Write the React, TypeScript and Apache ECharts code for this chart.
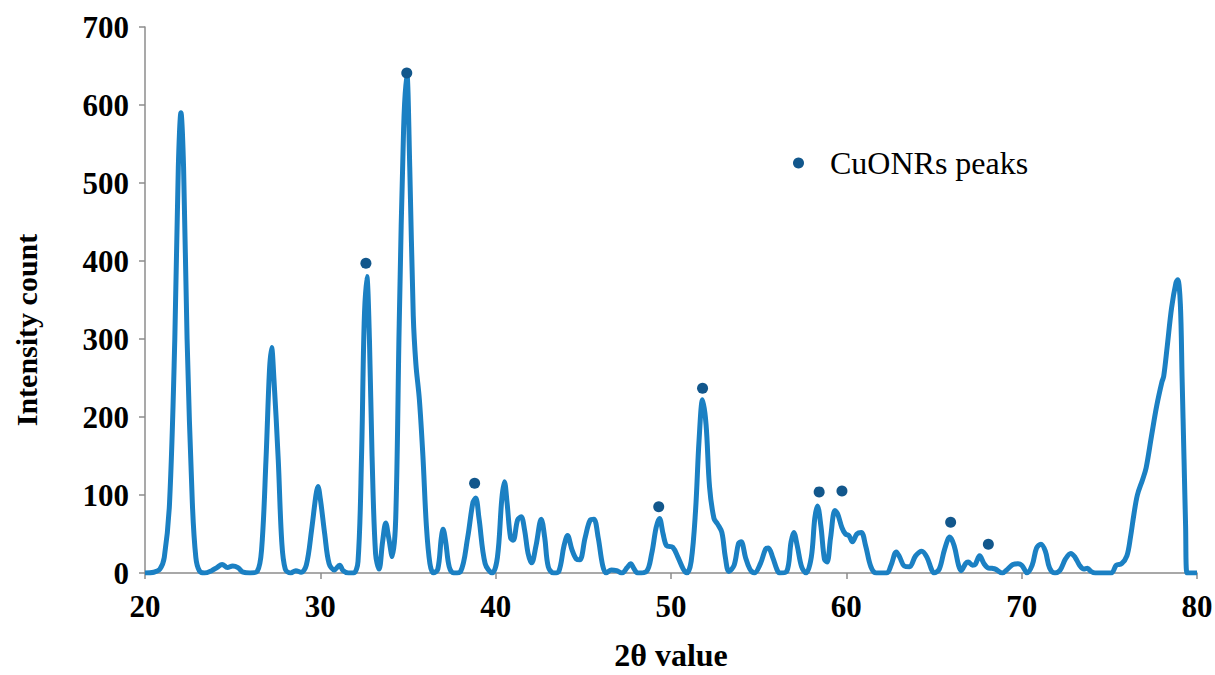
import React, { useEffect, useRef } from "react";
import * as echarts from "echarts";

const twoTheta: number[] = [
  20.0, 20.5, 20.85, 21.1, 21.4, 21.7, 21.9, 22.05, 22.2, 22.4, 22.7, 22.9, 23.1, 23.4, 23.8, 24.1, 24.4, 24.7, 25.0, 25.3,
  25.6, 26.0, 26.4, 26.65, 26.9, 27.1, 27.22, 27.35, 27.6, 27.8, 28.0, 28.3, 28.6, 28.9, 29.2, 29.5, 29.75, 29.86, 30.0, 30.25,
  30.5, 30.8, 31.1, 31.3, 31.6, 31.9, 32.15, 32.35, 32.5, 32.65, 32.8, 32.95, 33.15, 33.35, 33.55, 33.73, 33.9, 34.1, 34.3, 34.5,
  34.75, 34.93, 35.1, 35.3, 35.45, 35.65, 35.85, 36.05, 36.25, 36.45, 36.7, 36.9, 37.0, 37.15, 37.35, 37.6, 38.0, 38.4, 38.7, 38.86,
  39.05, 39.4, 39.8, 40.1, 40.35, 40.5, 40.65, 40.85, 41.0, 41.25, 41.45, 41.65, 41.85, 42.05, 42.3, 42.6, 42.8, 43.0, 43.3, 43.6,
  43.9, 44.1, 44.35, 44.6, 44.8, 45.1, 45.4, 45.6, 45.85, 46.1, 46.3, 46.6, 46.9, 47.2, 47.5, 47.7, 47.9, 48.1, 48.6, 48.9,
  49.15, 49.34, 49.55, 49.75, 50.1, 50.4, 50.7, 50.9, 51.15, 51.4, 51.6, 51.8, 52.0, 52.2, 52.45, 52.65, 52.9, 53.1, 53.3, 53.6,
  53.85, 54.0, 54.25, 54.5, 54.75, 55.1, 55.4, 55.55, 55.8, 56.05, 56.2, 56.6, 56.85, 57.0, 57.2, 57.45, 57.7, 58.0, 58.2, 58.35,
  58.55, 58.75, 58.9, 59.1, 59.35, 59.5, 59.75, 59.95, 60.15, 60.35, 60.6, 60.85, 61.1, 61.4, 61.7, 62.3, 62.55, 62.85, 63.05, 63.3,
  63.6, 63.95, 64.3, 64.6, 64.85, 65.0, 65.3, 65.6, 65.9, 66.15, 66.4, 66.55, 66.8, 66.95, 67.2, 67.35, 67.6, 67.85, 68.05, 68.3,
  68.5, 68.9, 69.2, 69.5, 69.8, 70.0, 70.2, 70.3, 70.6, 70.85, 71.1, 71.35, 71.6, 71.9, 72.2, 72.5, 72.8, 73.05, 73.3, 73.55,
  73.75, 73.95, 74.2, 75.1, 75.4, 75.7, 76.0, 76.2, 76.4, 76.6, 76.9, 77.1, 77.4, 77.7, 78.0, 78.1, 78.3, 78.55, 78.8, 78.9,
  79.05, 79.15, 79.26, 79.35, 79.43, 80.0,
];
const intensity: number[] = [
  0, 1, 5, 20, 90, 300, 520, 590, 520, 300, 90, 20, 3, 0, 3, 7, 11, 7, 9, 7,
  1, 0, 2, 30, 145, 260, 289, 250, 145, 40, 5, 0, 3, 1, 10, 55, 100, 111, 95, 50,
  12, 4, 10, 3, 0, 0, 15, 150, 320, 380, 300, 150, 25, 5, 40, 64, 45, 21, 70, 320,
  570, 641, 520, 330, 268, 222, 150, 60, 12, 0, 5, 45, 56, 40, 8, 0, 2, 45, 90, 96,
  70, 12, 0, 20, 95, 117, 90, 45, 42, 68, 72, 55, 25, 13, 35, 69, 45, 8, 0, 2,
  35, 48, 30, 18, 17, 45, 68, 69, 45, 10, 0, 4, 3, 0, 7, 12, 5, 0, 2, 25,
  58, 70, 50, 35, 33, 20, 5, 0, 15, 80, 170, 222, 190, 110, 70, 63, 52, 20, 2, 10,
  38, 40, 20, 5, 0, 12, 31, 32, 20, 4, 0, 2, 40, 52, 35, 8, 0, 20, 70, 86,
  60, 18, 14, 45, 80, 76, 58, 50, 48, 40, 50, 52, 35, 8, 0, 0, 10, 27, 20, 9,
  8, 22, 28, 20, 5, 0, 5, 30, 46, 35, 10, 3, 12, 14, 10, 11, 22, 12, 7, 6,
  5, 0, 5, 11, 12, 10, 3, 0, 10, 32, 37, 28, 6, 0, 4, 18, 25, 20, 10, 5,
  6, 2, 0, 0, 10, 12, 22, 45, 75, 100, 120, 135, 175, 214, 245, 252, 290, 340, 372, 376,
  345, 250, 146, 60, 0, 0,
];

// CuO nanorod peak markers
const peakTheta: number[] = [32.6, 34.93, 38.8, 49.3, 51.8, 58.45, 59.75, 65.95, 68.1];
const peakCount: number[] = [397, 641, 115, 85, 237, 104, 105, 65, 37];

const xTicks = { min: 20, max: 80, interval: 10 };
const yTicks = { min: 0, max: 700, interval: 100 };

const FONT = "'Liberation Serif', 'Times New Roman', serif";

export default function App() {
  const ref = useRef<HTMLDivElement>(null);
  useEffect(() => {
    if (!ref.current) return;
    const chart = echarts.init(ref.current, undefined, { renderer: "svg" });
    const lineData = twoTheta.map((x, i) => [x, intensity[i]]);
    const peakData = peakTheta.map((x, i) => [x, peakCount[i]]);
    const axisLabel = { color: "#000", fontFamily: FONT, fontWeight: "bold" as const, fontSize: 31 };
    chart.setOption({
      animation: false,
      backgroundColor: "#fff",
      grid: { left: 145, right: 18, top: 27, bottom: 102, outerBoundsMode: "none", containLabel: false },
      legend: {
        data: [{ name: "CuONRs peaks", icon: "circle" }],
        left: 788,
        top: 142,
        itemWidth: 11,
        itemHeight: 11,
        itemGap: 10,
        textStyle: { color: "#000", fontFamily: FONT, fontSize: 32, padding: [0, 0, 0, 21] },
      },
      xAxis: {
        type: "value",
        min: xTicks.min,
        max: xTicks.max,
        interval: xTicks.interval,
        name: "2θ value",
        nameLocation: "middle",
        nameGap: 66,
        nameTextStyle: { color: "#000", fontFamily: FONT, fontWeight: "bold", fontSize: 32, lineHeight: 32 },
        axisLine: { lineStyle: { color: "#8c8c8c", width: 1.5 } },
        axisTick: { show: true, length: 6, lineStyle: { color: "#8c8c8c", width: 1.5 } },
        axisLabel: { ...axisLabel, margin: 18 },
        splitLine: { show: false },
      },
      yAxis: {
        type: "value",
        min: yTicks.min,
        max: yTicks.max,
        interval: yTicks.interval,
        name: "Intensity count",
        nameLocation: "middle",
        nameGap: 104,
        nameTextStyle: { color: "#000", fontFamily: FONT, fontWeight: "bold", fontSize: 30, padding: [0, 60, 0, 0] },
        axisLine: { show: true, lineStyle: { color: "#8c8c8c", width: 1.5 } },
        axisTick: { show: true, length: 6, lineStyle: { color: "#8c8c8c", width: 1.5 } },
        axisLabel: { ...axisLabel, margin: 16 },
        splitLine: { show: false },
      },
      series: [
        {
          name: "XRD pattern",
          type: "line",
          data: lineData,
          smooth: 0.35,
          showSymbol: false,
          symbol: "none",
          lineStyle: { color: "#1b80c3", width: 5 },
          z: 2,
        },
        {
          name: "CuONRs peaks",
          type: "scatter",
          data: peakData,
          symbol: "circle",
          symbolSize: 11,
          itemStyle: { color: "#12578c", opacity: 1 },
          z: 3,
        },
      ],
    });
    return () => chart.dispose();
  }, []);
  return (
    <div
      ref={ref}
      style={{ position: "fixed", left: 0, top: 0, width: 1215, height: 675 }}
    />
  );
}
